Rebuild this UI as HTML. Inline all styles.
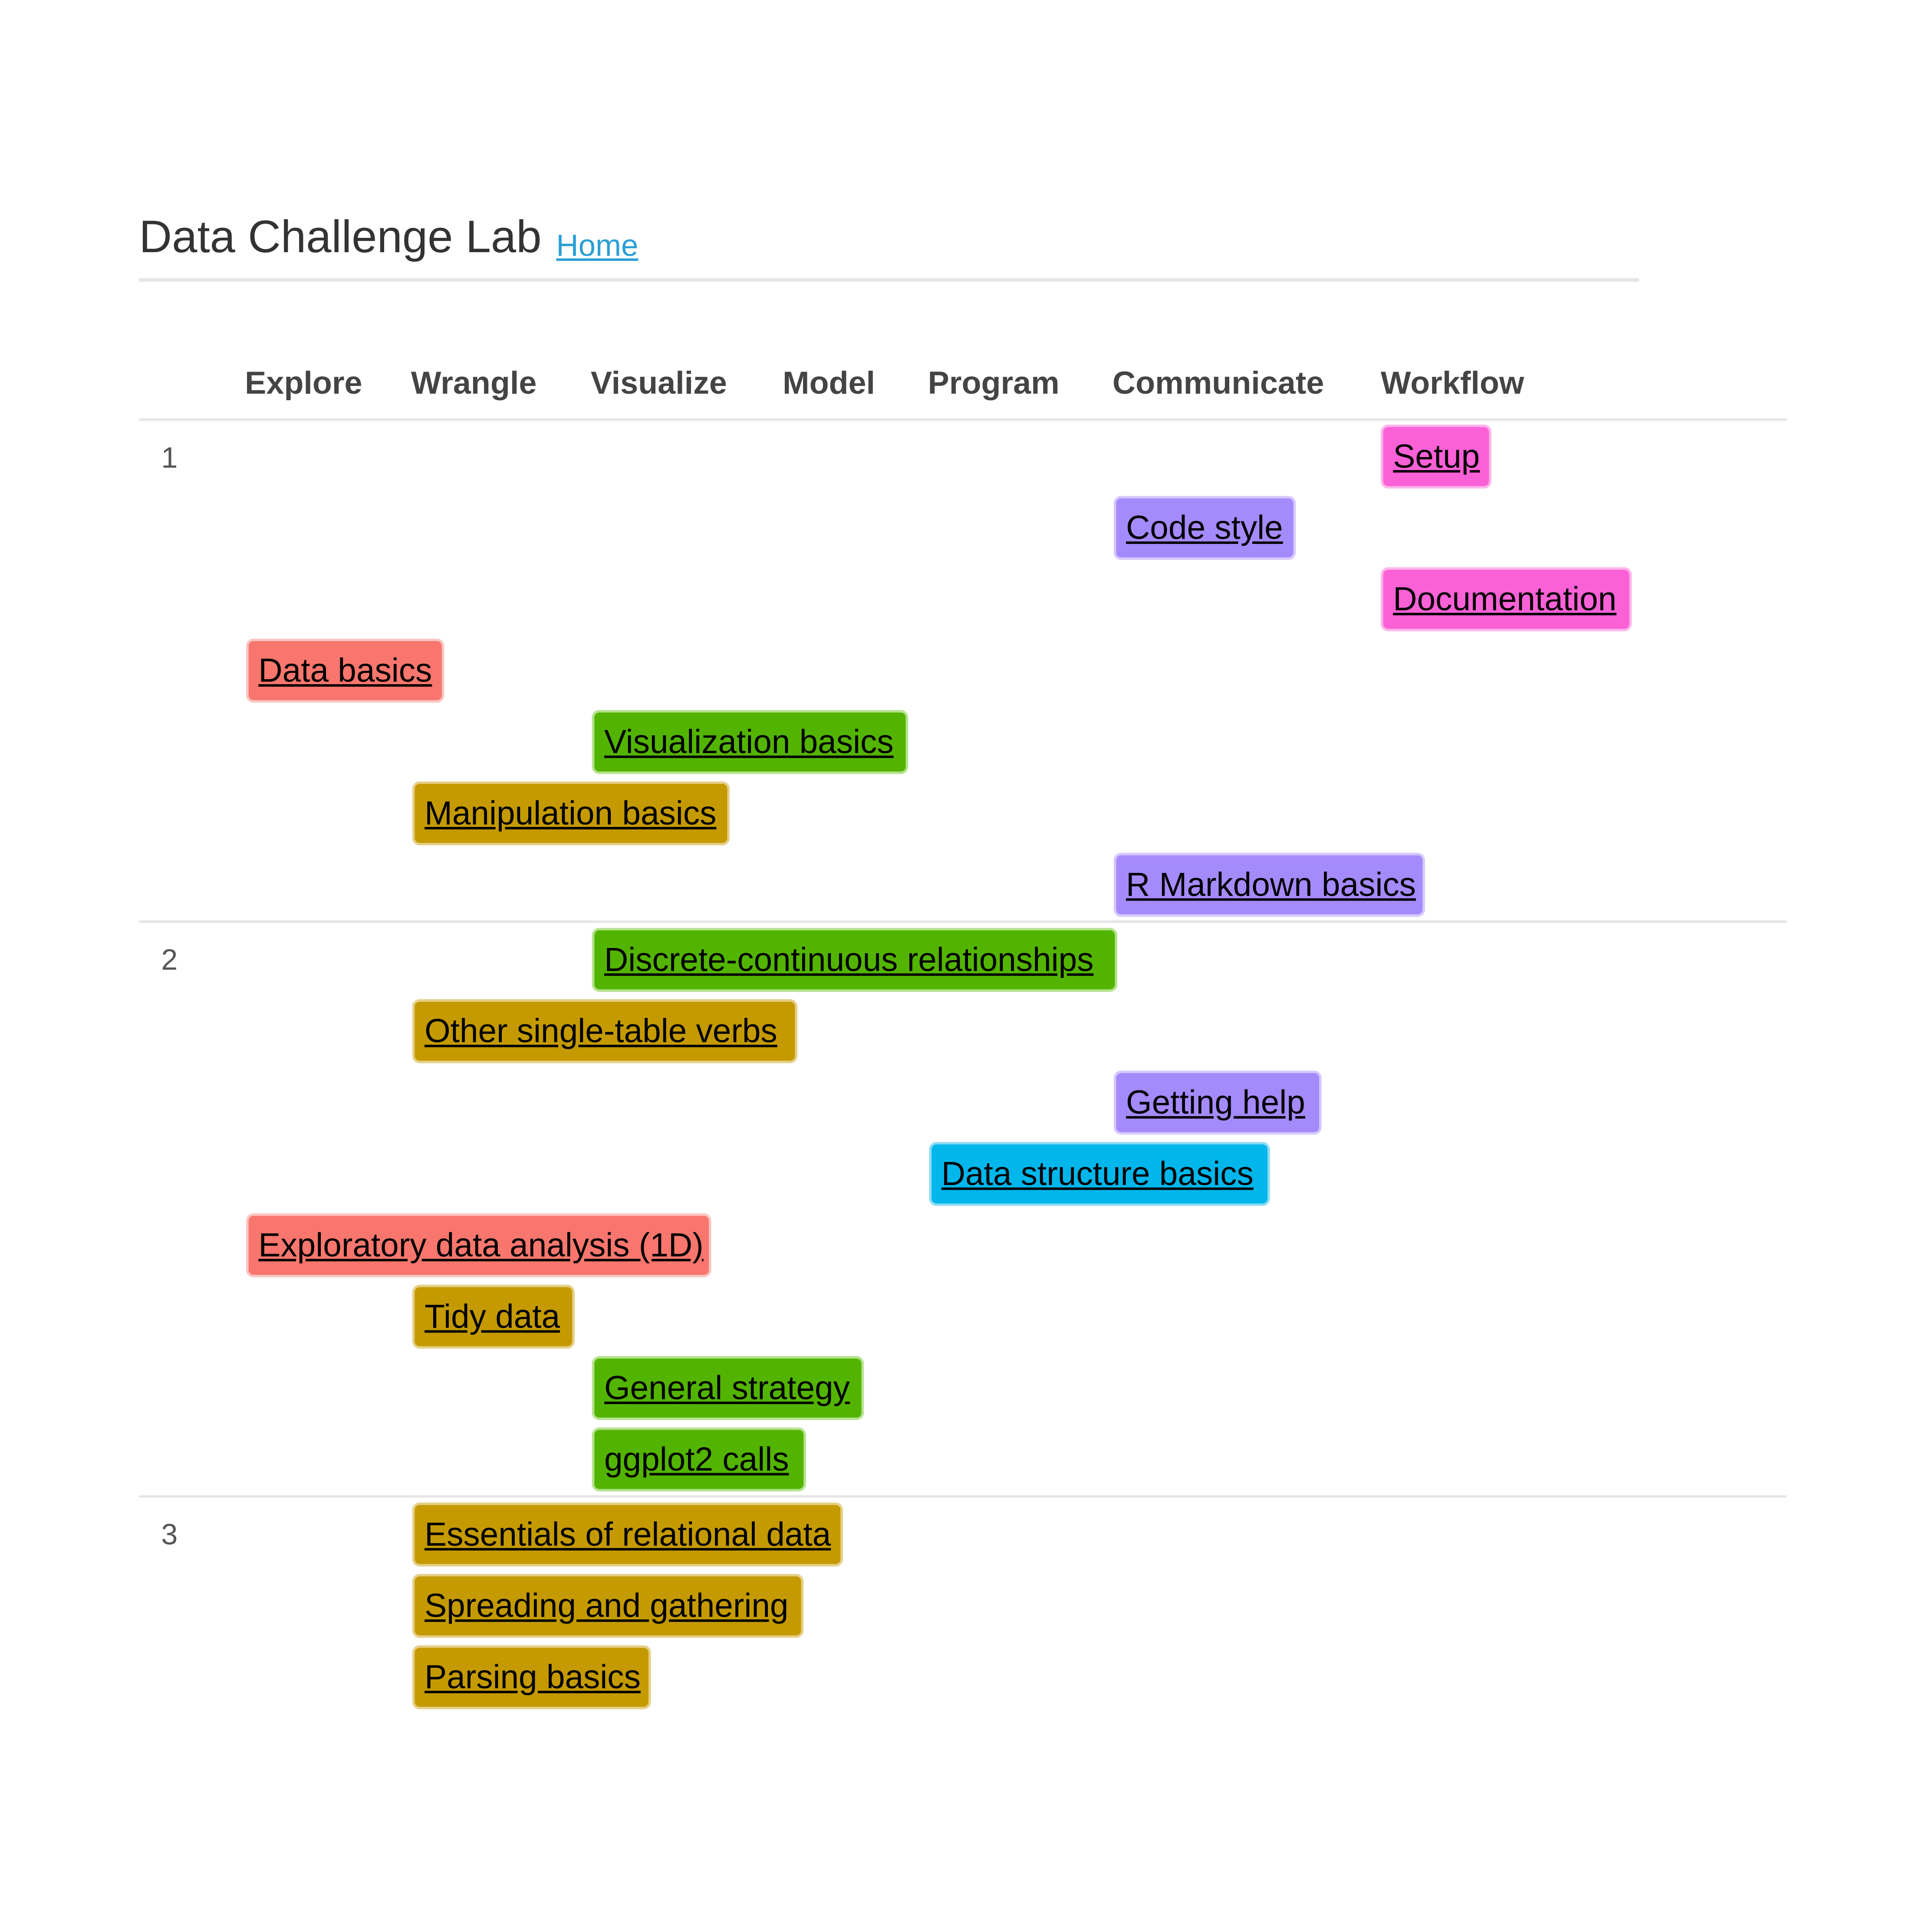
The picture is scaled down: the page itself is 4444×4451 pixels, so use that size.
<!DOCTYPE html>
<html><head><meta charset="utf-8"><style>
html,body{margin:0;padding:0;background:#fff;}
body{width:4444px;height:4447px;overflow:hidden;}
#c{position:absolute;left:0;top:0;width:1570px;height:1570px;transform:scale(2.835);transform-origin:0 0;font-family:"Liberation Sans",sans-serif;}
.a{position:absolute;white-space:nowrap;}
.t{left:113px;top:172px;font-size:37px;color:#333;}
.home{left:452px;top:186px;font-size:25px;color:#2a9fd6;text-decoration:underline;}
.hr{position:absolute;background:#e6e6e6;}
.h{font-size:26px;font-weight:bold;color:#444;top:296px;}
.n{font-size:24px;color:#555;left:131px;}
.b{position:absolute;height:48px;border:2px solid;border-radius:6px;box-sizing:content-box;font-size:27px;line-height:48px;padding-left:8px;color:#000;text-decoration:underline;white-space:nowrap;}
.r{background:#f8766d;border-color:#f9c6c2;}
.g{background:#53b400;border-color:#b6e38f;}
.y{background:#c49a00;border-color:#e6d08a;}
.p{background:#a58afc;border-color:#d6c9fd;}
.k{background:#fb61d7;border-color:#fcb5eb;}
.u{background:#00b6eb;border-color:#8fdcf4;}
</style></head><body><div id="c">
<div class="a t">Data Challenge Lab</div>
<div class="a home">Home</div>
<div class="hr" style="left:113px;top:226px;width:1219px;height:3px"></div>
<div class="a h" style="left:199px">Explore</div>
<div class="a h" style="left:334px">Wrangle</div>
<div class="a h" style="left:480px">Visualize</div>
<div class="a h" style="left:636px">Model</div>
<div class="a h" style="left:754px">Program</div>
<div class="a h" style="left:904px">Communicate</div>
<div class="a h" style="left:1122px">Workflow</div>
<div class="hr" style="left:113px;top:340px;width:1339px;height:2px"></div>
<div class="hr" style="left:113px;top:748px;width:1339px;height:2px"></div>
<div class="hr" style="left:113px;top:1215px;width:1339px;height:2px"></div>
<div class="a n" style="top:359px">1</div>
<div class="a n" style="top:767px">2</div>
<div class="a n" style="top:1234px">3</div>

<div class="b k" style="left:1122px;top:345px;width:78px">Setup</div>
<div class="b p" style="left:905px;top:403px;width:136px">Code style</div>
<div class="b k" style="left:1122px;top:461px;width:192px">Documentation</div>
<div class="b r" style="left:200px;top:519px;width:149px">Data basics</div>
<div class="b g" style="left:481px;top:577px;width:245px">Visualization basics</div>
<div class="b y" style="left:335px;top:635px;width:246px">Manipulation basics</div>
<div class="b p" style="left:905px;top:693px;width:241px">R Markdown basics</div>
<div class="b g" style="left:481px;top:754px;width:415px">Discrete-continuous relationships</div>
<div class="b y" style="left:335px;top:812px;width:301px">Other single-table verbs</div>
<div class="b p" style="left:905px;top:870px;width:157px">Getting help</div>
<div class="b u" style="left:755px;top:928px;width:265px">Data structure basics</div>
<div class="b r" style="left:200px;top:986px;width:366px">Exploratory data analysis (1D)</div>
<div class="b y" style="left:335px;top:1044px;width:120px">Tidy data</div>
<div class="b g" style="left:481px;top:1102px;width:209px">General strategy</div>
<div class="b g" style="left:481px;top:1160px;width:162px">ggplot2 calls</div>
<div class="b y" style="left:335px;top:1221px;width:338px">Essentials of relational data</div>
<div class="b y" style="left:335px;top:1279px;width:306px">Spreading and gathering</div>
<div class="b y" style="left:335px;top:1337px;width:182px">Parsing basics</div>
</div></body></html>
